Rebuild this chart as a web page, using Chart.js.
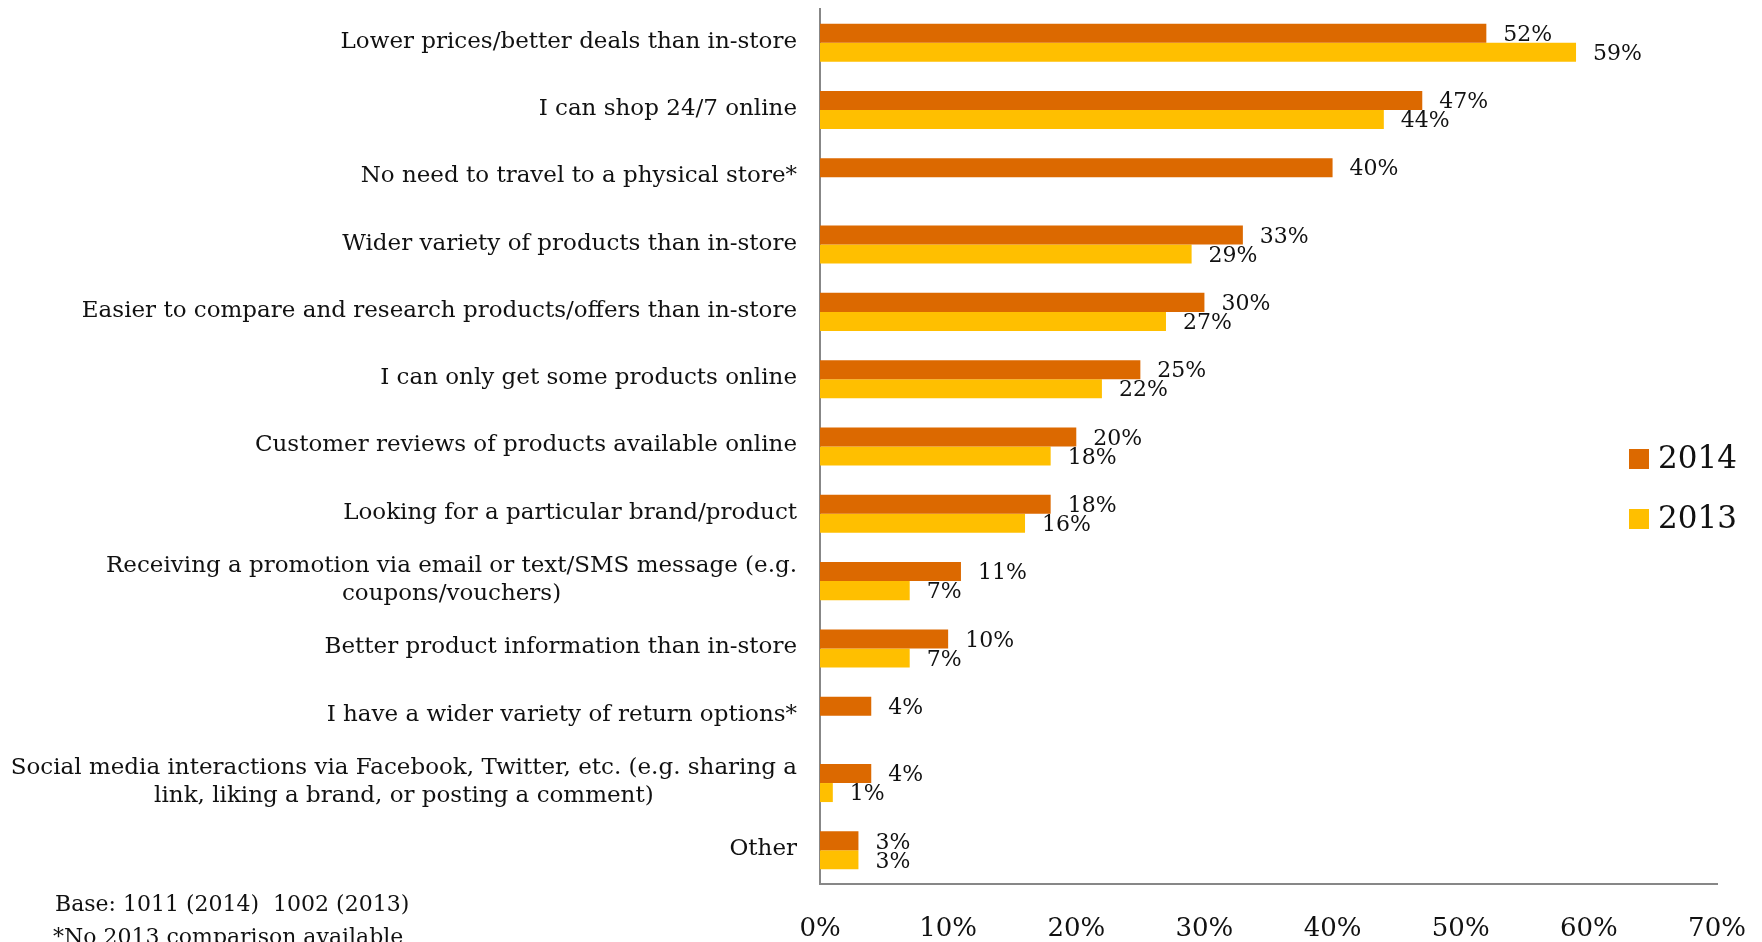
<!DOCTYPE html>
<html>
<head>
<meta charset="utf-8">
<title>Reasons for shopping online</title>
<script src="https://cdn.jsdelivr.net/npm/chart.js@4.4.0/dist/chart.umd.min.js"></script>
<style>
  html, body { margin: 0; padding: 0; background: #fff; }
  #wrap { width: 1762px; height: 942px; position: relative; }
</style>
</head>
<body>
<div id="wrap"><canvas id="chart"></canvas></div>
<script>
"use strict";

const categories = [
  ["Lower prices/better deals than in-store"],
  ["I can shop 24/7 online"],
  ["No need to travel to a physical store*"],
  ["Wider variety of products than in-store"],
  ["Easier to compare and research products/offers than in-store"],
  ["I can only get some products online"],
  ["Customer reviews of products available online"],
  ["Looking for a particular brand/product"],
  ["Receiving a promotion via email or text/SMS message (e.g.", "coupons/vouchers)"],
  ["Better product information than in-store"],
  ["I have a wider variety of return options*"],
  ["Social media interactions via Facebook, Twitter, etc. (e.g. sharing a", "link, liking a brand, or posting a comment)"],
  ["Other"],
];
const values2014 = [52, 47, 40, 33, 30, 25, 20, 18, 11, 10, 4, 4, 3];
const values2013 = [59, 44, null, 29, 27, 22, 18, 16, 7, 7, null, 1, 3];
const seriesNames = ["2014", "2013"];
const xTicks = [0, 10, 20, 30, 40, 50, 60, 70];
const footnotes = ["Base: 1011 (2014)  1002 (2013)", "*No 2013 comparison available"];

const FONT = "'DejaVu Serif', 'Liberation Serif', serif";
const ORANGE = "#DC6900";
const YELLOW = "#FFBF00";
const AXIS = "#878787";

/* ---------- plugins ---------- */
// category labels: block right-aligned to the axis, lines centred inside it
const categoryLabels = {
  id: "categoryLabels",
  afterDraw(chart) {
    const { ctx } = chart;
    const y = chart.scales.y;
    const right = chart.chartArea.left - 23;
    const lh = 28;
    ctx.save();
    ctx.font = "23px " + FONT;
    ctx.fillStyle = "#111";
    ctx.textBaseline = "middle";
    ctx.textAlign = "center";
    categories.forEach((lines, i) => {
      const cy = y.getPixelForValue(i) - 1;
      const widest = Math.max(...lines.map((l) => ctx.measureText(l).width));
      const cx = right - widest / 2;
      const top = cy - (lines.length - 1) * lh / 2;
      lines.forEach((l, k) => ctx.fillText(l, cx, top + k * lh));
    });
    ctx.restore();
  },
};

// value labels just past the end of each bar
const valueLabels = {
  id: "valueLabels",
  afterDatasetsDraw(chart) {
    const { ctx } = chart;
    ctx.save();
    ctx.font = "22px " + FONT;
    ctx.fillStyle = "#111";
    ctx.textBaseline = "middle";
    ctx.textAlign = "left";
    chart.data.datasets.forEach((ds, di) => {
      const meta = chart.getDatasetMeta(di);
      meta.data.forEach((bar, i) => {
        const v = ds.data[i];
        if (v == null) return;
        ctx.fillText(v + "%", bar.x + 17, bar.y + 2);
      });
    });
    ctx.restore();
  },
};

// legend squares on the right, footnotes bottom-left
const sideLegend = {
  id: "sideLegend",
  afterDraw(chart) {
    const { ctx } = chart;
    ctx.save();
    ctx.textBaseline = "middle";
    ctx.textAlign = "left";
    chart.data.datasets.forEach((ds, i) => {
      const cy = 459 + i * 60;
      ctx.fillStyle = ds.backgroundColor;
      ctx.fillRect(1629, cy - 10, 20, 20);
      ctx.fillStyle = "#111";
      ctx.font = "31px " + FONT;
      ctx.fillText(ds.label, 1658, cy + 1);
    });
    ctx.font = "22px " + FONT;
    ctx.fillText(footnotes[0], 55, 905);
    ctx.fillText(footnotes[1], 53, 938);
    ctx.restore();
  },
};

/* ---------- chart ---------- */
new Chart(document.getElementById("chart"), {
  type: "bar",
  data: {
    labels: categories.map((c) => c.join(" ")),
    datasets: [
      { label: seriesNames[0], data: values2014, backgroundColor: ORANGE },
      { label: seriesNames[1], data: values2013, backgroundColor: YELLOW },
    ],
  },
  options: {
    indexAxis: "y",
    responsive: true,
    maintainAspectRatio: false,
    animation: false,
    layout: { padding: { top: 9, right: 45, left: 0, bottom: 0 } },
    datasets: { bar: { barPercentage: 1, categoryPercentage: 0.565 } },
    plugins: { legend: { display: false }, tooltip: { enabled: false } },
    scales: {
      x: {
        min: 0, max: 70,
        afterBuildTicks: (s) => { s.ticks = xTicks.map((v) => ({ value: v })); },
        // fixed band under the axis; the last tick label may hang into the right margin
        afterFit: (s) => { s.height = 58; s.paddingRight = 0; },
        grid: { display: false, drawTicks: false },
        border: { display: true, color: AXIS, width: 2 },
        ticks: {
          padding: 30,
          color: "#111",
          font: { family: FONT, size: 26 },
          callback: (v) => v + "%",
        },
      },
      y: {
        afterFit: (s) => { s.width = 820; },
        grid: { display: false, drawTicks: false },
        border: { display: true, color: AXIS, width: 2 },
        ticks: { display: false },
      },
    },
  },
  plugins: [categoryLabels, valueLabels, sideLegend],
});
</script>
</body>
</html>
